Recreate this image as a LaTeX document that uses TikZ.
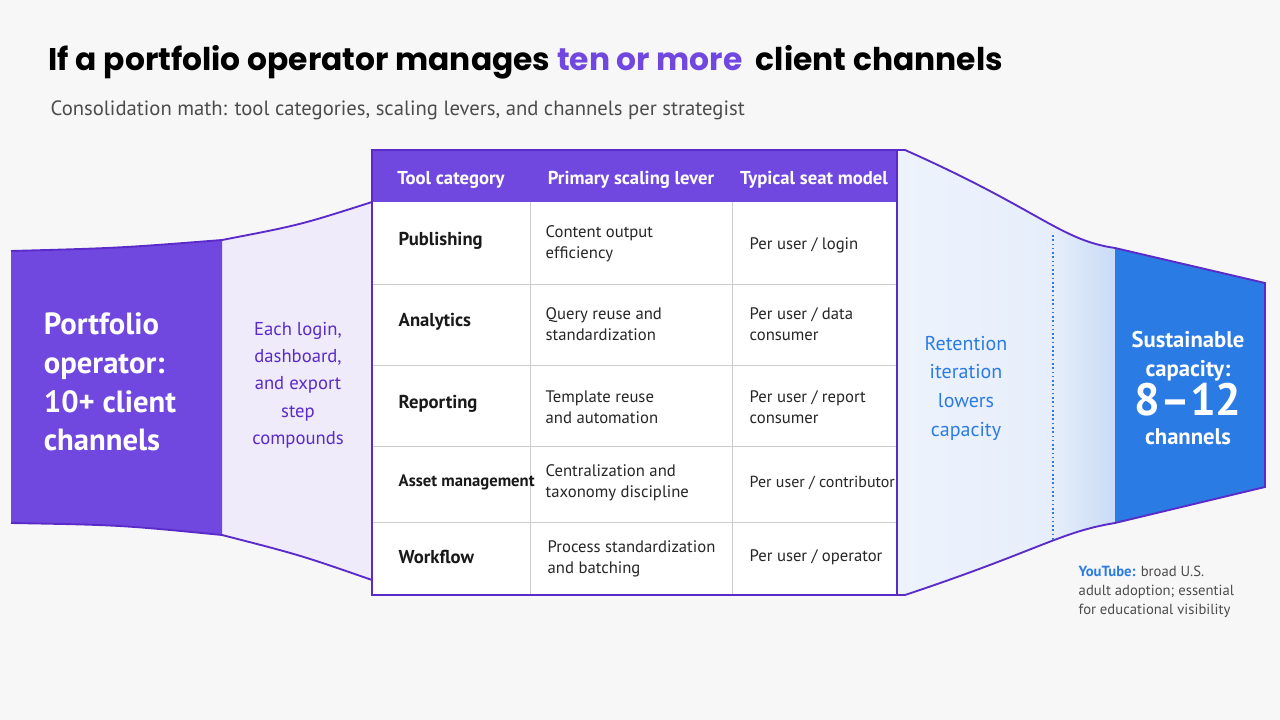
\documentclass[tikz,border=0pt]{standalone}
\usepackage{fontspec}
\setmainfont{PT Sans}
\newfontfamily\ttl{Poppins}
\begin{document}
\begin{tikzpicture}[x=0.75pt,y=-0.75pt,
  hdr/.style={text=white,font=\bfseries\fontsize{14}{17}\selectfont},
  cat/.style={anchor=west,font=\bfseries\fontsize{14}{17}\selectfont,text=black!90},
  cell/.style={anchor=west,align=left,font=\fontsize{12.5}{15.5}\selectfont,text=black!85},
  edge/.style={draw=purple3,line width=1.4pt}]
\definecolor{purple1}{HTML}{7048E0}
\definecolor{purple3}{HTML}{5A2BC8}
\definecolor{lav}{HTML}{EFEBFB}
\definecolor{blue1}{HTML}{2B7BE4}
\definecolor{lblue}{HTML}{E6EEFB}
\definecolor{lblue2}{HTML}{C9DBF6}
\definecolor{bg}{HTML}{F7F7F8}
\fill[bg] (0,0) rectangle (1280,720);
\useasboundingbox (0,0) rectangle (1280,720);
% title
\node[anchor=west,font=\ttl\bfseries\fontsize{23.5}{28}\selectfont] (title) at (44,62) {If a portfolio operator manages \textcolor{purple1}{ten or more} \ client channels};
\node[anchor=west,font=\fontsize{15.5}{19}\selectfont,text=black!70] (sub) at (46,110) {Consolidation math: tool categories, scaling levers, and channels per strategist};
% left lavender
\fill[lav] (222,240) .. controls (300,225) .. (372,202) -- (372,580) .. controls (300,555) .. (222,535) -- cycle;
\fill[purple1] (11,251) .. controls (120,248) .. (222,240) -- (222,535) .. controls (120,525) .. (11,523) -- cycle;
\draw[edge] (11,251) .. controls (120,248) .. (222,240) .. controls (300,225) .. (372,202);
\draw[edge] (11,523) .. controls (120,525) .. (222,535) .. controls (300,555) .. (372,580);
% right
\begin{scope}
\clip (897,150) -- (905,150) .. controls (1040,210) and (1060,240) .. (1115,248) -- (1265,283) -- (1265,487) -- (1115,523) .. controls (1060,532) and (1040,550) .. (905,595) -- (897,595) -- cycle;
\shade[left color=lblue!70!white,right color=lblue] (897,140) rectangle (1053,600);
\shade[left color=lblue,right color=lblue2] (1053,140) rectangle (1115,600);
\fill[blue1] (1115,140) rectangle (1270,600);
\end{scope}
\draw[edge] (897,150) -- (905,150) .. controls (1040,210) and (1060,240) .. (1115,248) -- (1265,283) -- (1265,487) -- (1115,523) .. controls (1060,532) and (1040,550) .. (905,595) -- (897,595);
\draw[blue1,dotted,line width=1.2pt] (1053,235) -- (1053,540);
% table
\fill[white] (372,202) rectangle (897,595);
\fill[purple1] (372,150) rectangle (897,202);
\foreach \y in {284,365,446,522} \draw[black!20] (372,\y) -- (897,\y);
\foreach \x in {530,732} \draw[black!20] (\x,202) -- (\x,595);
\draw[purple3,line width=1.4pt] (372,150) rectangle (897,595);
\node[hdr] (h1) at (451,180) {Tool category};
\node[hdr] (h2) at (631,180) {Primary scaling lever};
\node[hdr] (h3) at (814,180) {Typical seat model};
\node[cat] (c1) at (394,241) {Publishing};
\node[cat] (c2) at (394,322) {Analytics};
\node[cat] (c3) at (394,404) {Reporting};
\node[cat,font=\bfseries\fontsize{12.5}{16}\selectfont] (c4) at (394,482) {Asset management};
\node[cat] (c5) at (394,557) {Workflow};
\node[cell] (l1) at (541,244) {Content output\\efficiency};
\node[cell] (l2) at (541,324) {Query reuse and\\standardization};
\node[cell] (l3) at (541,407) {Template reuse\\and automation};
\node[cell] (l4) at (541,483) {Centralization and\\taxonomy discipline};
\node[cell] (l5) at (543,559) {Process standardization\\and batching};
\node[cell] (s1) at (745,245) {Per user / login};
\node[cell] (s2) at (745,324) {Per user / data\\consumer};
\node[cell] (s3) at (745,407) {Per user / report\\consumer};
\node[cell,font=\fontsize{12}{15.5}\selectfont] (s4) at (745,483) {Per user / contributor};
\node[cell] (s5) at (745,557) {Per user / operator};
% texts
\node[align=left,text=white,font=\bfseries\fontsize{23}{29}\selectfont] (port) at (110,382) {Portfolio\\operator:\\10+ client\\channels};
\node[align=center,text=purple3,font=\fontsize{14}{20.5}\selectfont] (each) at (298,385) {Each login,\\dashboard,\\and export\\step\\compounds};
\node[align=center,text=blue1,font=\fontsize{15}{21.5}\selectfont] (ret) at (966,388) {Retention\\iteration\\lowers\\capacity};
\node[align=center,text=white,font=\bfseries\fontsize{17}{22}\selectfont] (sus) at (1188,388) {Sustainable\\capacity:\\{\fontsize{34}{38}\selectfont 8--12}\\channels};
\node[anchor=north west,align=left,text=black!70,font=\fontsize{11}{14.5}\selectfont] (yt) at (1074,561) {\textcolor{blue1}{\bfseries YouTube:} broad U.S.\\adult adoption; essential\\for educational visibility};
\end{tikzpicture}
\end{document}
